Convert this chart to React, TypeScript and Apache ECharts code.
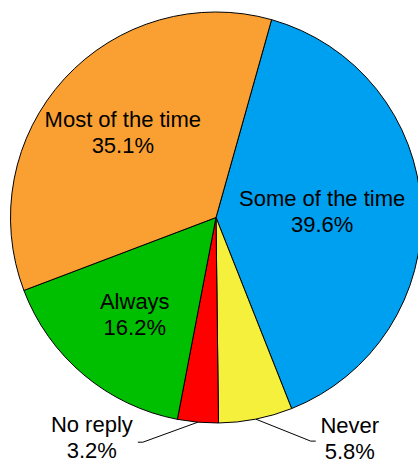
import React, { useEffect, useRef } from 'react';
import * as echarts from 'echarts';

// Survey answers, listed clockwise from the top-right slice
const categories = ['Some of the time', 'Never', 'No reply', 'Always', 'Most of the time'];
const shares = [39.6, 5.8, 3.2, 16.2, 35.1];
const colors = ['#00A0F0', '#F5F03C', '#FF0000', '#00BE00', '#FAA032'];
// Slices too thin to hold their own label
const outsideLabels = ['Never', 'No reply'];

const CENTER: [number, number] = [216, 217.5];
const RADIUS = 205.5;
const START_ANGLE = 74.3;

export default function App() {
  const ref = useRef<HTMLDivElement>(null);

  useEffect(() => {
    if (!ref.current) return;
    const chart = echarts.init(ref.current, null, { renderer: 'svg' });
    const font = {
      fontFamily: '"Liberation Sans", Arial, Helvetica, sans-serif',
      fontSize: 22,
      lineHeight: 26,
      color: '#000',
    };

    chart.setOption({
      animation: false,
      series: [
        {
          // The visible pie
          type: 'pie',
          center: CENTER,
          radius: [0, RADIUS],
          startAngle: START_ANGLE,
          clockwise: true,
          silent: true,
          avoidLabelOverlap: false,
          label: { show: false },
          labelLine: { show: false },
          itemStyle: { borderColor: '#000', borderWidth: 1 },
          data: categories.map((name, i) => ({
            name,
            value: shares[i],
            itemStyle: { color: colors[i] },
          })),
        },
        {
          // Transparent ring that carries the labels a little further out
          type: 'pie',
          center: CENTER,
          radius: [RADIUS * 0.2, RADIUS],
          startAngle: START_ANGLE,
          clockwise: true,
          silent: true,
          avoidLabelOverlap: false,
          itemStyle: { color: 'rgba(0,0,0,0)', borderWidth: 0 },
          label: { show: true, position: 'inside', formatter: '{b}\n{c}%', ...font },
          labelLine: { show: false },
          data: categories.map((name, i) => {
            const outside = outsideLabels.includes(name);
            return {
              name,
              value: shares[i],
              label: { position: outside ? 'outside' : 'inside', align: 'center' },
              labelLine: {
                show: outside,
                lineStyle: { color: '#000', width: 1 },
              },
            };
          }),
          labelLayout: (params: any) => {
            const name = categories[params.dataIndex];
            if (name === 'Some of the time') {
              // keep the wide label clear of the right edge
              return { dx: -20 };
            }
            if (!outsideLabels.includes(name)) return {};
            const pts = params.labelLinePoints;
            if (!pts || !pts[0]) return {};
            const x0 = pts[0][0];
            const y0 = pts[0][1];
            if (name === 'Never') {
              const by = y0 + 22;
              return {
                x: x0 + 94,
                y: by - 3,
                align: 'center',
                verticalAlign: 'middle',
                labelLinePoints: [[x0, y0], [x0 + 55, by], [x0 + 60, by]],
              };
            }
            const by = y0 + 20;
            return {
              x: x0 - 106,
              y: by - 5,
              align: 'center',
              verticalAlign: 'middle',
              labelLinePoints: [[x0, y0], [x0 - 55, by], [x0 - 60, by]],
            };
          },
        },
      ],
    });

    return () => chart.dispose();
  }, []);

  return (
    <div
      ref={ref}
      style={{ position: 'absolute', left: 0, top: 0, width: 418, height: 463 }}
    />
  );
}
